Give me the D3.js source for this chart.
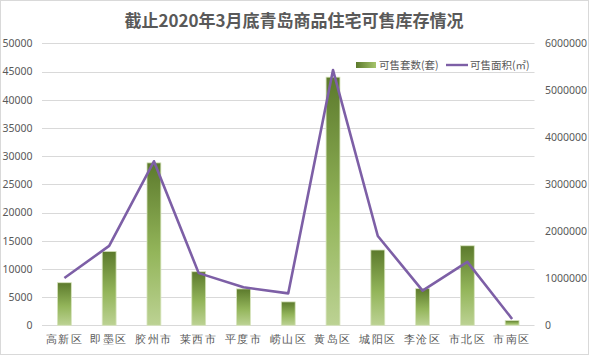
<!DOCTYPE html>
<html><head><meta charset="utf-8">
<script src="https://cdn.jsdelivr.net/npm/d3@7"></script>
<style>
html,body{margin:0;padding:0;background:#fff;}
svg{display:block;font-family:"Noto Sans CJK SC","Microsoft YaHei",sans-serif;}
</style></head>
<body>
<script>
const categories = ["高新区","即墨区","胶州市","莱西市","平度市","崂山区","黄岛区","城阳区","李沧区","市北区","市南区"];
const units = [7550, 13100, 28800, 9500, 6450, 4150, 44000, 13350, 6500, 14100, 830];
const area = [1005000, 1690000, 3490000, 1110000, 808000, 680000, 5430000, 1900000, 738000, 1350000, 135000];
const leftTicks = [0,5000,10000,15000,20000,25000,30000,35000,40000,45000,50000];
const rightTicks = [0,1000000,2000000,3000000,4000000,5000000,6000000];
const title = "截止2020年3月底青岛商品住宅可售库存情况";
const seriesNames = ["可售套数(套)","可售面积(㎡)"];

const W = 589, H = 355;
const svg = d3.select("body").append("svg").attr("width", W).attr("height", H);
const defs = svg.append("defs");
const grad = defs.append("linearGradient").attr("id","barg").attr("x1",0).attr("y1",0).attr("x2",0).attr("y2",1);
grad.append("stop").attr("offset","0%").attr("stop-color","#5c7a2c");
grad.append("stop").attr("offset","55%").attr("stop-color","#93b55a");
grad.append("stop").attr("offset","100%").attr("stop-color","#bcd293");
const lgrad = defs.append("linearGradient").attr("id","legg").attr("x1",0).attr("y1",0).attr("x2",1).attr("y2",0);
lgrad.append("stop").attr("offset","0%").attr("stop-color","#5c7a2c");
lgrad.append("stop").attr("offset","100%").attr("stop-color","#a6c46c");

svg.append("rect").attr("x",0.5).attr("y",0.5).attr("width",W-1).attr("height",H-1)
  .attr("fill","#fff").attr("stroke","#d9d9d9");

const x0 = 42, x1 = 534.5, yTop = 43.3, yBot = 325.3;
const x = d3.scaleBand().domain(categories).range([x0, x1]).paddingInner(0.69).paddingOuter(0.345);
const yL = d3.scaleLinear().domain([0, 50000]).range([yBot, yTop]);
const yR = d3.scaleLinear().domain([0, 6000000]).range([yBot, yTop]);

// gridlines
svg.append("g").selectAll("line").data(leftTicks).join("line")
  .attr("x1", x0).attr("x2", x1)
  .attr("y1", d => Math.round(yL(d)) + 0.5).attr("y2", d => Math.round(yL(d)) + 0.5)
  .attr("stroke", "#d9d9d9").attr("stroke-width", 1);

const numFont = "'Noto Sans', 'DejaVu Sans', sans-serif";
// left axis
const axL = d3.axisLeft(yL).tickValues(leftTicks).tickFormat(d3.format("d")).tickSize(0).tickPadding(0);
const gL = svg.append("g").attr("transform", `translate(32.5,0)`).call(axL);
gL.select(".domain").remove();
gL.selectAll("text").attr("fill","#595959").style("font-family",numFont).style("font-size","10.5px");

// right axis
const axR = d3.axisRight(yR).tickValues(rightTicks).tickFormat(d3.format("d")).tickSize(0).tickPadding(0);
const gR = svg.append("g").attr("transform", `translate(545,0)`).call(axR);
gR.select(".domain").remove();
gR.selectAll("text").attr("fill","#595959").style("font-family",numFont).style("font-size","10.5px");

// bottom axis labels
const axB = d3.axisBottom(x).tickSize(0).tickPadding(0);
const gB = svg.append("g").attr("transform", `translate(0,${yBot + 9})`).call(axB);
gB.select(".domain").remove();
gB.selectAll("text").attr("fill","#595959").style("font-size","11px").attr("dy","0.75em").attr("letter-spacing","1.5px");

// bars
svg.append("g").selectAll("rect").data(units).join("rect")
  .attr("x", (d,i) => x(categories[i]))
  .attr("width", x.bandwidth())
  .attr("y", d => yL(d))
  .attr("height", d => yBot - yL(d))
  .attr("fill", "url(#barg)")
  .attr("stroke", "#d7e4bd").attr("stroke-width", 0.8);

// line
const line = d3.line().x((d,i) => x(categories[i]) + x.bandwidth()/2).y(d => yR(d));
svg.append("path").datum(area).attr("d", line)
  .attr("fill","none").attr("stroke","#7d5fa6").attr("stroke-width",2.6).attr("stroke-linejoin","round");

// title
svg.append("text").attr("x", 294).attr("y", 27).attr("text-anchor","middle")
  .attr("fill","#595959").style("font-size","17px").style("font-weight","bold").text(title);

// legend
const lg = svg.append("g");
lg.append("rect").attr("x",356).attr("y",62).attr("width",20).attr("height",6).attr("fill","url(#legg)");
lg.append("text").attr("x",379).attr("y",69).attr("fill","#595959").style("font-size","10.5px").text(seriesNames[0]);
lg.append("line").attr("x1",446).attr("x2",468).attr("y1",65).attr("y2",65).attr("stroke","#7d5fa6").attr("stroke-width",2.4);
lg.append("text").attr("x",470).attr("y",69).attr("fill","#595959").style("font-size","10.5px").text(seriesNames[1]);
</script>
</body></html>
